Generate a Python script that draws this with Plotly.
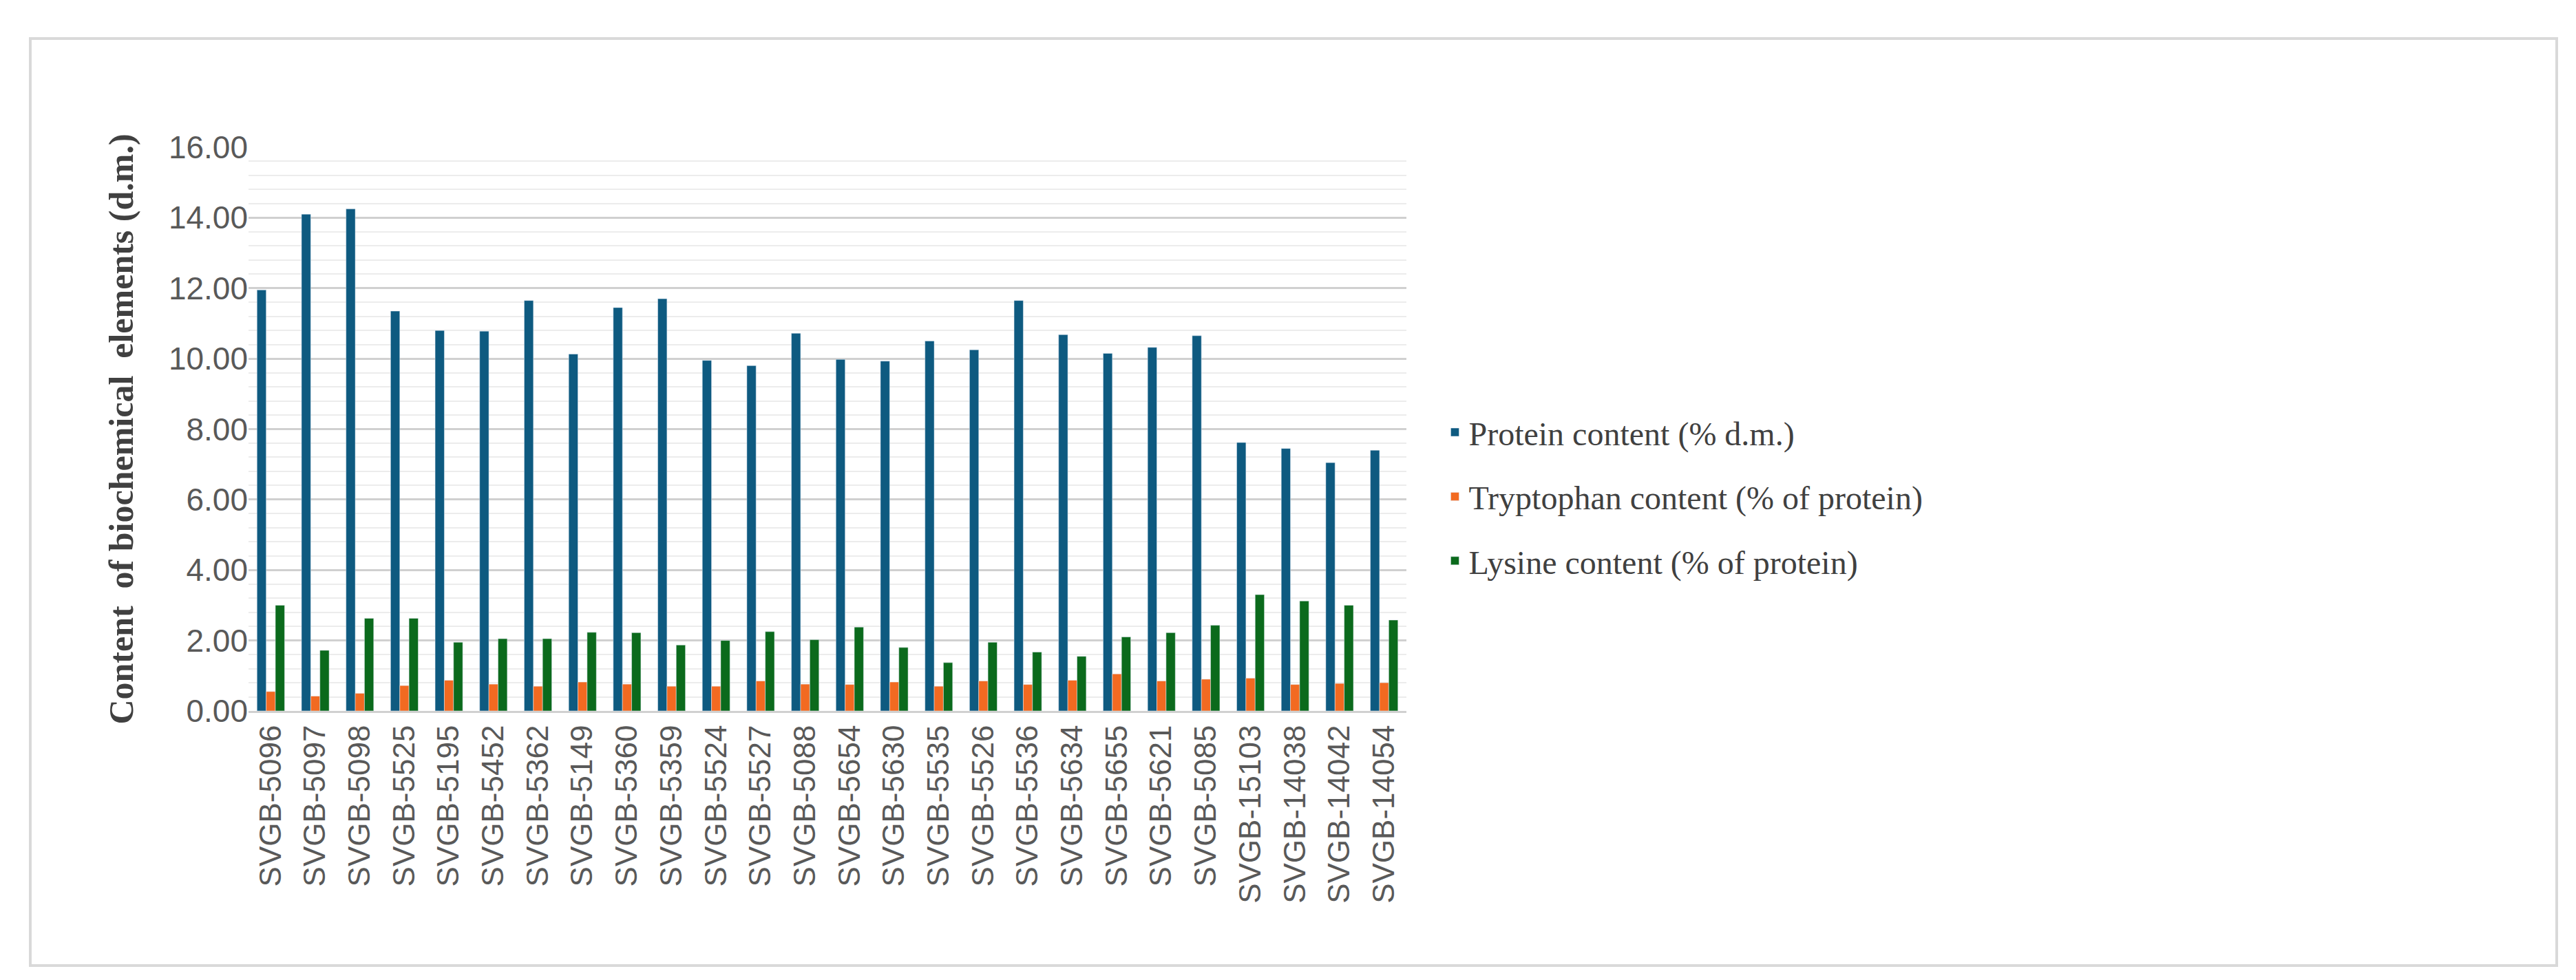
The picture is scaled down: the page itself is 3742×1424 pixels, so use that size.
import plotly.graph_objects as go

varieties = ["SVGB-5096", "SVGB-5097", "SVGB-5098", "SVGB-5525", "SVGB-5195", "SVGB-5452",
             "SVGB-5362", "SVGB-5149", "SVGB-5360", "SVGB-5359", "SVGB-5524", "SVGB-5527",
             "SVGB-5088", "SVGB-5654", "SVGB-5630", "SVGB-5535", "SVGB-5526", "SVGB-5536",
             "SVGB-5634", "SVGB-5655", "SVGB-5621", "SVGB-5085", "SVGB-15103", "SVGB-14038",
             "SVGB-14042", "SVGB-14054"]
protein = [11.95, 14.10, 14.25, 11.35, 10.80, 10.78, 11.65, 10.13, 11.45, 11.70, 9.95, 9.80,
           10.72, 9.98, 9.93, 10.50, 10.25, 11.65, 10.68, 10.15, 10.32, 10.65, 7.62, 7.45,
           7.05, 7.40]
tryptophan = [0.55, 0.42, 0.50, 0.72, 0.87, 0.76, 0.70, 0.82, 0.76, 0.70, 0.70, 0.85,
              0.76, 0.75, 0.82, 0.70, 0.85, 0.75, 0.87, 1.05, 0.85, 0.90, 0.93, 0.75,
              0.78, 0.80]
lysine = [3.00, 1.72, 2.63, 2.63, 1.95, 2.05, 2.05, 2.23, 2.22, 1.87, 2.00, 2.25,
          2.02, 2.38, 1.80, 1.37, 1.95, 1.67, 1.55, 2.10, 2.22, 2.43, 3.30, 3.12,
          3.00, 2.58]

series = [
    ("Protein content (% d.m.)", protein, "#0E5A80"),
    ("Tryptophan content (% of protein)", tryptophan, "#F26A21"),
    ("Lysine content (% of protein)", lysine, "#0B6A1C"),
]

W, H = 3742, 1424
left, right, top, bottom = 353, 2035, 206, 1025
pw, ph = right - left, bottom - top

fig = go.Figure()
for i, (name, vals, col) in enumerate(series):
    fig.add_trace(go.Bar(x=varieties, y=vals, name=name, marker_color=col,
                         legendgroup=str(i)))

fig.update_layout(
    width=W, height=H,
    barmode="group", bargap=0.38, bargroupgap=0,
    plot_bgcolor="white", paper_bgcolor="white",
    margin=dict(l=left, r=W - right, t=top, b=H - bottom),
    font=dict(family="Liberation Sans", color="#595959"),
    legend=dict(x=1.03, y=0.38, xanchor="left", yanchor="middle",
                font=dict(family="Liberation Serif", size=48, color="#404040"),
                traceorder="grouped", tracegroupgap=28, itemwidth=30),
    yaxis=dict(range=[0, 16], dtick=2, tickformat=".2f",
               tickfont=dict(size=46), gridcolor="#d0d0d0", gridwidth=3,
               minor=dict(dtick=0.4, showgrid=True, gridcolor="#ececec", gridwidth=2),
               zeroline=False, ticks="", ticklen=0,
               title=dict(text="<b>Content  of biochemical  elements (d.m.)</b>",
                          font=dict(family="Liberation Serif", size=50, color="#404040"),
                          standoff=35)),
    xaxis=dict(tickangle=-90, tickfont=dict(size=44), showline=True,
               linecolor="#d0d0d0", linewidth=3),
)

# outer frame
fig.add_shape(type="rect", xref="paper", yref="paper",
              x0=(36 - left) / pw, x1=(3706 - left) / pw,
              y0=(bottom - 1395) / ph, y1=(bottom - 48) / ph,
              line=dict(color="#d9d9d9", width=4))

fig.write_html("out.html")
